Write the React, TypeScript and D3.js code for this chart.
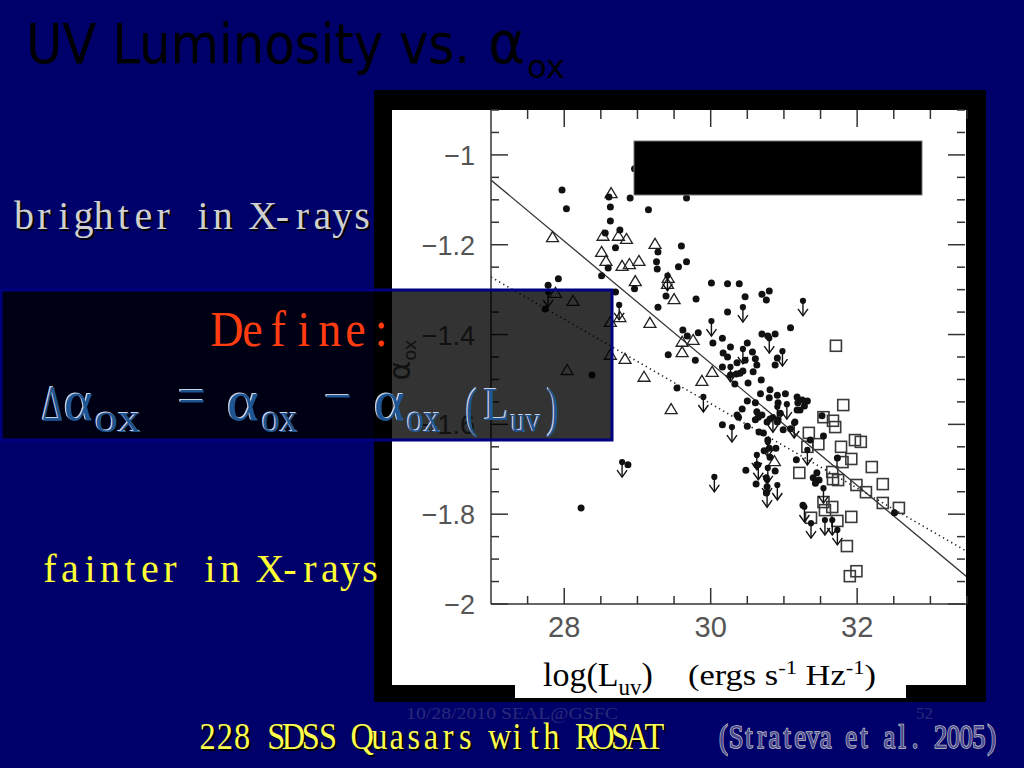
import React from 'react';
import * as d3 from 'd3';

// ---------- DATA ----------
const xDomain: [number, number] = [27, 33.5];
const yDomain: [number, number] = [-2, -0.9];
const xMajorTicks = [28, 30, 32];
const yMajorTicks = [-2, -1.8, -1.6, -1.4, -1.2, -1];
const yTickLabels = ['−2', '−1.8', '−1.6', '−1.4', '−1.2', '−1'];
const xTickLabels = ['28', '30', '32'];

// filled circles: [log L_uv, alpha_ox]
const detected: [number, number][] = [
  [27.97, -1.078], [28.03, -1.12], [28.61, -1.094], [28.63, -1.116], [28.63, -1.147], [28.9, -1.096],
  [28.96, -1.031], [29.15, -1.122], [29.67, -1.096], [28.56, -1.174], [28.76, -1.167], [28.7, -1.207],
  [28.6, -1.252], [28.51, -1.269], [27.92, -1.276], [27.78, -1.29], [27.74, -1.343], [28.7, -1.305],
  [28.96, -1.298], [29.28, -1.216], [29.26, -1.238], [29.27, -1.254], [29.6, -1.203], [29.67, -1.238],
  [29.56, -1.249], [29.39, -1.314], [29.28, -1.339], [29.8, -1.321], [29.62, -1.39], [29.68, -1.403],
  [29.83, -1.396], [29.42, -1.445], [29.79, -1.457], [28.38, -1.49], [29.54, -1.519], [30.01, -1.285],
  [30.23, -1.287], [30.39, -1.287], [30.47, -1.316], [30.7, -1.31], [30.8, -1.303], [30.76, -1.323],
  [30.23, -1.35], [31.09, -1.385], [30.16, -1.408], [30.17, -1.441], [30.27, -1.428], [30.03, -1.419],
  [30.5, -1.419], [30.57, -1.439], [30.61, -1.454], [30.7, -1.399], [30.88, -1.399], [30.78, -1.403],
  [30.88, -1.468], [30.63, -1.468], [30.16, -1.472], [30.23, -1.45], [30.36, -1.463], [30.47, -1.457],
  [30.58, -1.483], [30.27, -1.49], [30.35, -1.488], [30.4, -1.486], [30.44, -1.481], [30.33, -1.51],
  [30.51, -1.508], [30.69, -1.501], [30.91, -1.452], [30.81, -1.523], [30.68, -1.532], [30.91, -1.535],
  [31.02, -1.532], [31.18, -1.539], [31.32, -1.548], [30.5, -1.548], [30.61, -1.552], [30.8, -1.541],
  [30.92, -1.552], [31.19, -1.552], [31.22, -1.568], [31.28, -1.559], [31.25, -1.546], [31.18, -1.568],
  [30.43, -1.566], [30.63, -1.572], [30.65, -1.584], [30.7, -1.579], [30.36, -1.579], [30.61, -1.59],
  [30.95, -1.575], [30.81, -1.588], [30.92, -1.59], [30.16, -1.601], [30.5, -1.604], [30.77, -1.595],
  [30.91, -1.595], [30.99, -1.612], [31.09, -1.61], [31.15, -1.595], [30.66, -1.617], [30.72, -1.619],
  [31.52, -1.581], [31.36, -1.635], [31.54, -1.626], [30.78, -1.635], [30.89, -1.653], [30.8, -1.653],
  [30.73, -1.659], [30.81, -1.673], [31.17, -1.679], [30.48, -1.702], [30.63, -1.69], [30.88, -1.704],
  [30.62, -1.733], [30.76, -1.719], [30.77, -1.739], [31.45, -1.708], [31.4, -1.719], [31.48, -1.724],
  [31.73, -1.675], [31.26, -1.78], [32.51, -1.797], [28.23, -1.786], [28.87, -1.69], [30.38, -1.584],
  [30.76, -1.753], [31.43, -1.731],
];

// upper limits (dot with downward arrow)
const upperLimits: [number, number][] = [
  [27.78, -1.305], [28.75, -1.334], [30.44, -1.339], [30.01, -1.37], [31.26, -1.325], [30.44, -1.432],
  [30.8, -1.408], [30.98, -1.437], [30.27, -1.472], [29.9, -1.539], [30.29, -1.606], [30.91, -1.561],
  [31.04, -1.555], [30.85, -1.584], [31.14, -1.597], [31.32, -1.657], [30.78, -1.639], [30.63, -1.668],
  [30.65, -1.69], [30.78, -1.697], [30.77, -1.724], [30.91, -1.735], [30.77, -1.751], [30.05, -1.717],
  [31.54, -1.742], [31.28, -1.784], [31.37, -1.82], [31.56, -1.813], [31.66, -1.813], [31.73, -1.835],
  [28.79, -1.684], [29.41, -1.269],
];

// open triangles
const triangles: [number, number][] = [
  [27.84, -1.183], [28.64, -1.085], [28.53, -1.18], [28.74, -1.18], [28.85, -1.187], [28.51, -1.216],
  [28.57, -1.236], [28.79, -1.247], [28.89, -1.243], [29.02, -1.236], [29.24, -1.198], [28.97, -1.281],
  [29.5, -1.321], [28.12, -1.325], [27.88, -1.307], [28.63, -1.372], [28.76, -1.361], [29.17, -1.374],
  [29.61, -1.416], [29.76, -1.412], [29.61, -1.439], [28.83, -1.454], [28.63, -1.445], [28.04, -1.479],
  [29.09, -1.494], [29.41, -1.287], [29.42, -1.274], [30.02, -1.483], [29.88, -1.503], [30.87, -1.682],
  [29.46, -1.566],
];

// open squares
const squares: [number, number][] = [
  [31.71, -1.425], [31.81, -1.557], [31.54, -1.584], [31.67, -1.592], [31.7, -1.606], [31.34, -1.619],
  [31.47, -1.644], [31.32, -1.65], [31.78, -1.65], [31.97, -1.635], [32.05, -1.639], [31.92, -1.677],
  [31.8, -1.684], [32.2, -1.695], [31.21, -1.708], [31.66, -1.706], [31.67, -1.722], [31.74, -1.724],
  [31.99, -1.735], [32.35, -1.733], [32.12, -1.751], [32.35, -1.775], [32.57, -1.786], [31.54, -1.773],
  [31.66, -1.784], [31.56, -1.791], [31.37, -1.808], [31.73, -1.815], [31.92, -1.806], [31.86, -1.871],
  [31.99, -1.927], [31.9, -1.938],
];

// regression lines alpha = slope * logL + intercept
const fitSolid = { slope: -0.136, intercept: 2.616 };
const fitDotted = { slope: -0.094, intercept: 1.266 };

// ---------- LAYOUT ----------
const BG = '#00006a';
const PL = 491, PR = 967, PT = 110, PB = 604;

type CellProps = {
  text: string; x0: number; width: number; y: number; size: number; sx: number;
  fill: string; family?: string; stroke?: string; strokeWidth?: number; weight?: string | number;
  shadow?: { dx: number; dy: number; color: string };
};

function CellText({ text, x0, width, y, size, sx, fill, family = 'Liberation Serif', stroke, strokeWidth, weight, shadow }: CellProps) {
  const chars = Array.from(text);
  const cell = width / chars.length;
  const xs = chars.map((_, i) => ((x0 + (i + 0.5) * cell) / sx).toFixed(2)).join(' ');
  const t = (f: string, st?: string, sw?: number) => (
    <text x={xs} y={y} fontSize={size} fontFamily={family} fontWeight={weight} textAnchor="middle" fill={f}
      stroke={st} strokeWidth={sw} paintOrder="stroke" style={{ whiteSpace: 'pre' }}>{text}</text>
  );
  return (
    <g>
      {shadow && <g transform={`translate(${shadow.dx},${shadow.dy}) scale(${sx},1)`}>{t(shadow.color)}</g>}
      <g transform={`scale(${sx},1)`}>{t(fill, stroke, strokeWidth)}</g>
    </g>
  );
}

export default function App() {
  const x = d3.scaleLinear().domain(xDomain).range([PL, PR]);
  const y = d3.scaleLinear().domain(yDomain).range([PB, PT]);

  const fitPath = (f: { slope: number; intercept: number }) =>
    d3.line<number>().x((v) => x(v)).y((v) => y(f.slope * v + f.intercept))(xDomain as number[]) || '';

  const yMinor = d3.range(0, 23).map((k) => -2 + k * 0.05);
  const xMinor = d3.range(1, 14).map((k) => 27 + k * 0.5);
  const isMajorX = (v: number) => xMajorTicks.some((m) => Math.abs(m - v) < 1e-6);
  const isMajorY = (v: number) => yMajorTicks.some((m) => Math.abs(m - v) < 1e-6);

  const formula = [
    { t: 'Δ', x: 42, w: 21, y: 420, s: 50 },
    { t: 'α', x: 64, w: 29, y: 420, s: 58 },
    { t: 'ox', x: 95, w: 46, y: 432, s: 40 },
    { t: '=', x: 178, w: 28, y: 413, s: 50 },
    { t: 'α', x: 227, w: 32, y: 420, s: 58 },
    { t: 'ox', x: 262, w: 36, y: 432, s: 40 },
    { t: '−', x: 324, w: 28, y: 413, s: 50 },
    { t: 'α', x: 374, w: 31, y: 420, s: 58 },
    { t: 'ox', x: 407, w: 34, y: 432, s: 40 },
    { t: '(', x: 466, w: 12, y: 426, s: 54 },
    { t: 'L', x: 484, w: 26, y: 420, s: 46 },
    { t: 'uv', x: 511, w: 30, y: 432, s: 36 },
    { t: ')', x: 547, w: 12, y: 426, s: 54 },
  ];

  return (
    <svg width={1024} height={768} style={{ position: 'fixed', left: 0, top: 0 }}>
      <defs>
        <clipPath id="plotClip">
          <rect x={PL} y={PT} width={PR - PL - 1} height={PB - PT} />
        </clipPath>
      </defs>
      <rect x={0} y={0} width={1024} height={768} fill={BG} />

      {/* Title */}
      <text x={26} y={63} fontFamily="DejaVu Sans" fontSize={56} fill="#000" textLength={444} lengthAdjust="spacingAndGlyphs">UV Luminosity vs.</text>
      <text x={488} y={63} fontFamily="DejaVu Sans" fontSize={58} fill="#000" textLength={37} lengthAdjust="spacingAndGlyphs">α</text>
      <text x={527} y={78} fontFamily="DejaVu Sans" fontSize={32} fill="#000" textLength={38} lengthAdjust="spacingAndGlyphs">ox</text>

      {/* Figure frame */}
      <rect x={374} y={90} width={612} height={612} fill="#000" />
      <rect x={392} y={110} width={574} height={575} fill="#fff" />
      <rect x={515} y={660} width={391} height={38} fill="#fff" />

      {/* marks */}
      <g clipPath="url(#plotClip)">
        <path d={fitPath(fitSolid)} fill="none" stroke="#333" strokeWidth={1.3} />
        <path d={fitPath(fitDotted)} fill="none" stroke="#222" strokeWidth={1.6} strokeDasharray="1.3 3.4" />
        {squares.map(([a, b], i) => (
          <rect key={'s' + i} x={x(a) - 5.5} y={y(b) - 5.5} width={11} height={11} fill="none" stroke="#3a3a3a" strokeWidth={1.6} />
        ))}
        {triangles.map(([a, b], i) => {
          const cx = x(a), cy = y(b);
          return <path key={'t' + i} d={`M${cx},${cy - 5.5}L${cx + 6},${cy + 4.5}L${cx - 6},${cy + 4.5}Z`} fill="none" stroke="#222" strokeWidth={1.3} />;
        })}
        {upperLimits.map(([a, b], i) => {
          const cx = x(a), cy = y(b);
          return (
            <g key={'u' + i} stroke="#111" strokeWidth={1.4} fill="none">
              <circle cx={cx} cy={cy} r={3.1} fill="#111" stroke="none" />
              <line x1={cx} y1={cy} x2={cx} y2={cy + 15} />
              <polyline points={`${cx - 5},${cy + 8} ${cx},${cy + 15} ${cx + 5},${cy + 8}`} />
            </g>
          );
        })}
        {detected.map(([a, b], i) => (
          <circle key={'d' + i} cx={x(a)} cy={y(b)} r={3.5} fill="#111" />
        ))}
      </g>

      {/* axes */}
      <g stroke="#333" strokeWidth={1.5}>
        <line x1={PL} y1={PT} x2={PL} y2={PB} />
        <line x1={PL} y1={PB} x2={966} y2={PB} />
        {yMinor.map((v, i) => {
          const L = isMajorY(v) ? 17 : 8;
          return (
            <g key={'yt' + i}>
              <line x1={PL} y1={y(v)} x2={PL + L} y2={y(v)} />
              <line x1={965} y1={y(v)} x2={965 - L} y2={y(v)} />
            </g>
          );
        })}
        {xMinor.map((v, i) => {
          const L = isMajorX(v) ? 16 : 8;
          return (
            <g key={'xt' + i}>
              <line x1={x(v)} y1={PB} x2={x(v)} y2={PB - L} />
              <line x1={x(v)} y1={PT} x2={x(v)} y2={PT + L + 1} />
            </g>
          );
        })}
      </g>
      <g fill="#555" fontFamily="Liberation Sans" fontSize={27}>
        {yMajorTicks.map((v, i) => (
          <text key={'yl' + i} x={475} y={y(v) + 10} textAnchor="end">{yTickLabels[i]}</text>
        ))}
        {xMajorTicks.map((v, i) => (
          <text key={'xl' + i} x={x(v)} y={637} textAnchor="middle" fontSize={29}>{xTickLabels[i]}</text>
        ))}
      </g>
      <text transform="translate(410,360) rotate(-90)" textAnchor="middle" fill="#555" fontFamily="DejaVu Sans" fontSize={30}>
        α<tspan fontSize={18} dy={6}>ox</tspan>
      </text>

      {/* x-axis title */}
      <text x={543} y={686} fontFamily="Liberation Serif" fontSize={34} fill="#000">
        log(L<tspan fontSize={23} dy={9}>uv</tspan><tspan dy={-9}>)</tspan>
      </text>
      <text x={688} y={685} fontFamily="Liberation Serif" fontSize={29} fill="#000" textLength={188} lengthAdjust="spacingAndGlyphs">
        (ergs s<tspan fontSize={19} dy={-11}>-1</tspan><tspan dy={11}> Hz</tspan><tspan fontSize={19} dy={-11}>-1</tspan><tspan dy={11}>)</tspan>
      </text>

      {/* redacted legend */}
      <rect x={634} y={141} width={288} height={54} fill="#000" stroke="#777" strokeWidth={1} />

      {/* side labels */}
      <CellText text="brighter in X-rays" x0={14} width={358} y={229} size={40} sx={1} fill="#cfcfcf" shadow={{ dx: 2, dy: 2, color: '#000' }} />
      <CellText text="fainter in X-rays" x0={40} width={340} y={582} size={40} sx={1} fill="#ffff33" />

      {/* Define box */}
      <rect x={1} y={290} width={611} height={150} fill="#000" fillOpacity={0.8} stroke="#000080" strokeWidth={3} />
      <CellText text="Define:" x0={214} width={180} y={346} size={50} sx={0.92} fill="#ff3c10" />
      {formula.map((p, i) => (
        <g key={'f' + i}>
          <text x={p.x - 1.2} y={p.y - 1.2} fontFamily="Liberation Serif" fontSize={p.s} fill="#c9d3e6" textLength={p.w} lengthAdjust="spacingAndGlyphs">{p.t}</text>
          <text x={p.x} y={p.y} fontFamily="Liberation Serif" fontSize={p.s} fill="#1f5592" textLength={p.w} lengthAdjust="spacingAndGlyphs">{p.t}</text>
        </g>
      ))}

      {/* footer */}
      <text x={406} y={719} fontFamily="Liberation Serif" fontSize={17} fill="#2a2a78" textLength={212} lengthAdjust="spacingAndGlyphs">10/28/2010 SEAL@GSFC</text>
      <text x={916} y={719} fontFamily="Liberation Serif" fontSize={17} fill="#2a2a78">52</text>
      <CellText text="228 SDSS Quasars with ROSAT" x0={199} width={464} y={749} size={38} sx={0.85} fill="#ffff4d" shadow={{ dx: 2, dy: 2, color: '#000' }} />
      <CellText text="(Strateva et al. 2005)" x0={717} width={281} y={748} size={34} sx={0.78} fill="#4a4a90" stroke="#c4c4c4" strokeWidth={1.6} />
    </svg>
  );
}
